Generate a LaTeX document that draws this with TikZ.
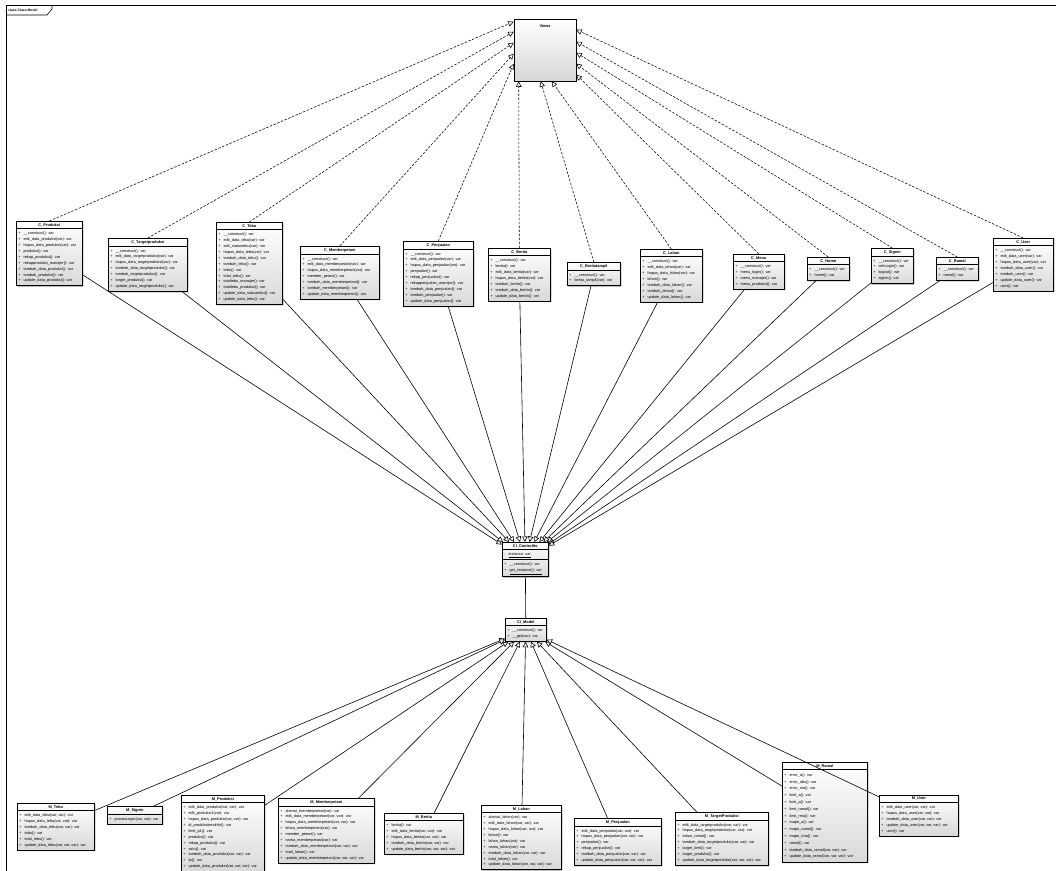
\documentclass[tikz,border=0pt]{standalone}
\usepackage{fontspec}
\setmainfont{Liberation Sans}
\usetikzlibrary{arrows.meta}
\usetikzlibrary{shapes.multipart}
\usetikzlibrary{shadows}
\newcommand{\ops}[1]{\begin{tabular}{@{}l@{\hspace{3pt}}l@{}}#1\end{tabular}}
\newcommand{\cname}[1]{{\fontsize{3.9}{4.7}\selectfont\bfseries #1}}
\tikzset{umlclass/.style = {rectangle split, rectangle split parts=2,
                            rectangle split part align={center,left},
                            draw, line width=0.6pt, anchor=north west,
                            top color=white, bottom color=black!15,
                            drop shadow={shadow xshift=1pt, shadow yshift=-1pt, opacity=0.8},
                            inner xsep=2pt, inner ysep=1.7pt,
                            font=\fontsize{3.85}{5.9}\selectfont},
         viewbox/.style = {draw, line width=0.6pt, minimum width=62pt, minimum height=62pt,
                           top color=white, bottom color=black!16,
                           drop shadow={shadow xshift=1pt, shadow yshift=-1pt, opacity=0.8}},
         realize/.style = {dash pattern=on 2.5pt off 1.5pt, line width=0.55pt,
                           -{Triangle[fill=white, length=5.5pt, width=5.5pt]}},
         inherit/.style = {line width=0.6pt,
                           -{Triangle[fill=white, length=5.5pt, width=5.5pt]}}}
\begin{document}
\begin{tikzpicture}[x=1pt, y=-1pt]
    \useasboundingbox (0,0) rectangle (1056,870);
    \fill[white] (0,0) rectangle (1056,870);
    % frame
    \draw[line width=0.8pt] (6,875) -- (6,5) -- (1056,5);
    \draw[line width=0.6pt] (6,15) -- (47,15) -- (52,9) -- (52,5);
    \node[anchor=west, inner sep=0pt, font=\fontsize{3.4}{4}\selectfont\bfseries] (frametitle) at (8,10) {class Class Model};

    % views
    \node[viewbox] (views) at (545,50) {};
    \node[anchor=north, inner sep=0pt] (viewsname) at ([yshift=-6pt]views.north) {\cname{Views}};

    % controllers
    \node[umlclass, minimum width=66pt] (cprod) at (16,221) {\cname{C\_Produksi}\nodepart{two}\ops{
      + & \_\_construct(): var\\ + & edit\_data\_produksi(var): var\\ + & hapus\_data\_produksi(var): var\\
      + & produksi(): var\\ + & rekap\_produksi(): var\\ + & rekapproduksi\_manajer(): var\\
      + & tambah\_data\_produksi(): var\\ + & tambah\_produksi(): var\\ + & update\_data\_produksi(): var}};
    \node[umlclass, minimum width=79pt] (ctarget) at (108,238) {\cname{C\_Targetproduksi}\nodepart{two}\ops{
      + & \_\_construct(): var\\ + & edit\_data\_targetproduksi(var): var\\ + & hapus\_data\_targetproduksi(var): var\\
      + & tambah\_data\_targetproduksi(): var\\ + & tambah\_targetproduksi(): var\\ + & target\_produksi(): var\\
      + & update\_data\_targetproduksi(): var}};
    \node[umlclass, minimum width=66pt] (ctebu) at (216,222) {\cname{C\_Tebu}\nodepart{two}\ops{
      + & \_\_construct(): var\\ + & edit\_data\_tebu(var): var\\ + & edit\_statustebu(var): var\\
      + & hapus\_data\_tebu(var): var\\ + & tambah\_data\_tebu(): var\\ + & tambah\_tebu(): var\\
      + & tebu(): var\\ + & total\_tebu(): var\\ + & totaltebu\_manajer(): var\\
      + & totaltebu\_produksi(): var\\ + & update\_data\_statustebu(): var\\ + & update\_data\_tebu(): var}};
    \node[umlclass, minimum width=79pt] (cmember) at (300,246) {\cname{C\_Memberpetani}\nodepart{two}\ops{
      + & \_\_construct(): var\\ + & edit\_data\_memberpetani(var): var\\ + & hapus\_data\_memberpetani(var): var\\
      + & member\_petani(): var\\ + & tambah\_data\_memberpetani(): var\\ + & tambah\_memberpetani(): var\\
      + & update\_data\_memberpetani(): var}};
    \node[umlclass, minimum width=70pt] (cjual) at (403,241) {\cname{C\_Penjualan}\nodepart{two}\ops{
      + & \_\_construct(): var\\ + & edit\_data\_penjualan(var): var\\ + & hapus\_data\_penjualan(var): var\\
      + & penjualan(): var\\ + & rekap\_penjualan(): var\\ + & rekappenjualan\_manajer(): var\\
      + & tambah\_data\_penjualan(): var\\ + & tambah\_penjualan(): var\\ + & update\_data\_penjualan(): var}};
    \node[umlclass, minimum width=62pt] (cberita) at (488,248) {\cname{C\_Berita}\nodepart{two}\ops{
      + & \_\_construct(): var\\ + & berita(): var\\ + & edit\_data\_berita(var): var\\
      + & hapus\_data\_berita(var): var\\ + & tambah\_berita(): var\\ + & tambah\_data\_berita(): var\\
      + & update\_data\_berita(): var}};
    \node[umlclass, minimum width=53pt] (cbtampil) at (567,262) {\cname{C\_Beritatampil}\nodepart{two}\ops{
      + & \_\_construct(): var\\ + & berita\_tampil(var): var}};
    \node[umlclass, minimum width=62pt] (clahan) at (640,249) {\cname{C\_Lahan}\nodepart{two}\ops{
      + & \_\_construct(): var\\ + & edit\_data\_lahan(var): var\\ + & hapus\_data\_lahan(var): var\\
      + & lahan(): var\\ + & tambah\_data\_lahan(): var\\ + & tambah\_lahan(): var\\
      + & update\_data\_lahan(): var}};
    \node[umlclass, minimum width=51pt] (cmenu) at (733,254) {\cname{C\_Menu}\nodepart{two}\ops{
      + & \_\_construct(): var\\ + & menu\_login(): var\\ + & menu\_manajer(): var\\ + & menu\_produksi(): var}};
    \node[umlclass, minimum width=42pt] (chome) at (807,257) {\cname{C\_Home}\nodepart{two}\ops{
      + & \_\_construct(): var\\ + & home(): var}};
    \node[umlclass, minimum width=42pt] (csignin) at (871,248) {\cname{C\_Signin}\nodepart{two}\ops{
      + & \_\_construct(): var\\ + & cekLogin(): var\\ + & logout(): var\\ + & signin(): var}};
    \node[umlclass, minimum width=42pt] (cramal) at (936,257) {\cname{C\_Ramal}\nodepart{two}\ops{
      + & \_\_construct(): var\\ + & ramal(): var}};
    \node[umlclass, minimum width=60pt] (cuser) at (993,238) {\cname{C\_User}\nodepart{two}\ops{
      + & \_\_construct(): var\\ + & edit\_data\_user(var): var\\ + & hapus\_data\_user(var): var\\
      + & tambah\_data\_user(): var\\ + & tambah\_user(): var\\ + & update\_data\_user(): var\\ + & user(): var}};

    % base classes
    \node[umlclass, rectangle split parts=3, minimum width=46pt] (ctl) at (502,542) {\cname{CI\_Controller}
      \nodepart{two}\ops{- & \underline{instance: var}}
      \nodepart{three}\ops{+ & \_\_construct(): var\\ + & \underline{get\_instance(): var}}};
    \node[umlclass, minimum width=41pt] (model) at (505,618) {\cname{CI\_Model}\nodepart{two}\ops{
      + & \_\_construct(): var\\ + & \_\_get(var): var}};

    % models
    \node[umlclass, minimum width=77pt] (mtebu) at (17,803) {\cname{M\_Tebu}\nodepart{two}\ops{
      + & edit\_data\_tebu(var, var): var\\ + & hapus\_data\_tebu(var, var): var\\ + & tambah\_data\_tebu(var, var): var\\
      + & tebu(): var\\ + & total\_tebu(): var\\ + & update\_data\_tebu(var, var, var): var}};
    \node[umlclass, minimum width=55pt] (msignin) at (107,806) {\cname{M\_Signin}\nodepart{two}\ops{
      + & prosesLogin(var, var): var}};
    \node[umlclass, minimum width=83pt] (mprod) at (181,795) {\cname{M\_Produksi}\nodepart{two}\ops{
      + & edit\_data\_produksi(var, var): var\\ + & edit\_produksi1(var): var\\ + & hapus\_data\_produksi(var, var): var\\
      + & id\_produksiterakhir(): var\\ + & limit\_p1(): var\\ + & produksi(): var\\ + & rekap\_produksi(): var\\
      + & satu(): var\\ + & tambah\_data\_produksi(var, var): var\\ + & tp(): var\\
      + & update\_data\_produksi(var, var, var): var}};
    \node[umlclass, minimum width=96pt] (mmember) at (278,798) {\cname{M\_Memberpetani}\nodepart{two}\ops{
      + & alamat\_memberpetani(var): var\\ + & edit\_data\_memberpetani(var, var): var\\
      + & hapus\_data\_memberpetani(var, var): var\\ + & lahan\_memberpetani(var): var\\
      + & member\_petani(): var\\ + & nama\_memberpetani(var): var\\
      + & tambah\_data\_memberpetani(var, var): var\\ + & total\_lahan(): var\\
      + & update\_data\_memberpetani(var, var, var): var}};
    \node[umlclass, minimum width=79pt] (mberita) at (384,813) {\cname{M\_Berita}\nodepart{two}\ops{
      + & berita(): var\\ + & edit\_data\_berita(var, var): var\\ + & hapus\_data\_berita(var, var): var\\
      + & tambah\_data\_berita(var, var): var\\ + & update\_data\_berita(var, var, var): var}};
    \node[umlclass, minimum width=80pt] (mlahan) at (481,805) {\cname{M\_Lahan}\nodepart{two}\ops{
      + & alamat\_lahan(var): var\\ + & edit\_data\_lahan(var, var): var\\ + & hapus\_data\_lahan(var, var): var\\
      + & lahan(): var\\ + & lahan\_lahan(var): var\\ + & nama\_lahan(var): var\\
      + & tambah\_data\_lahan(var, var): var\\ + & total\_lahan(): var\\ + & update\_data\_lahan(var, var, var): var}};
    \node[umlclass, minimum width=87pt] (mjual) at (574,818) {\cname{M\_Penjualan}\nodepart{two}\ops{
      + & edit\_data\_penjualan(var, var): var\\ + & hapus\_data\_penjualan(var, var): var\\ + & penjualan(): var\\
      + & rekap\_penjualan(): var\\ + & tambah\_data\_penjualan(var, var): var\\
      + & update\_data\_penjualan(var, var, var): var}};
    \node[umlclass, minimum width=93pt] (mtarget) at (675,812) {\cname{M\_TargetProduksi}\nodepart{two}\ops{
      + & edit\_data\_targetproduksi(var, var): var\\ + & hapus\_data\_targetproduksi(var, var): var\\
      + & tahun\_ramal(): var\\ + & tambah\_data\_targetproduksi(var, var): var\\ + & target\_limit(): var\\
      + & target\_produksi(): var\\ + & update\_data\_targetproduksi(var, var, var): var}};
    \node[umlclass, minimum width=85pt, font=\fontsize{3.85}{6.8}\selectfont] (mramal) at (782,762) {\cname{M\_Ramal}\nodepart{two}\ops{
      + & error\_a(): var\\ + & error\_abs(): var\\ + & error\_ma(): var\\ + & limit\_a(): var\\
      + & limit\_p(): var\\ + & limit\_ramal(): var\\ + & limit\_rma(): var\\ + & mape\_a(): var\\
      + & mape\_ramal(): var\\ + & mape\_rma(): var\\ + & ramal(): var\\
      + & tambah\_data\_ramal(var, var): var\\ + & update\_data\_ramal(var, var, var): var}};
    \node[umlclass, minimum width=79pt] (muser) at (879,795) {\cname{M\_User}\nodepart{two}\ops{
      + & edit\_data\_user(var, var): var\\ + & hapus\_data\_user(var, var): var\\
      + & tambah\_data\_user(var, var): var\\ + & update\_data\_user(var, var, var): var\\ + & user(): var}};

    % realizations of Views
    \draw[realize] (cprod.north) -- ([yshift=-3pt]views.north west);
    \draw[realize] (ctarget.north) -- ([yshift=-13pt]views.north west);
    \draw[realize] (ctebu.north) -- ([yshift=-24pt]views.north west);
    \draw[realize] (cmember.north) -- ([yshift=-35pt]views.north west);
    \draw[realize] (cjual.north) -- ([yshift=-45pt]views.north west);
    \draw[realize] (cberita.north) -- ([xshift=5pt]views.south west);
    \draw[realize] (cbtampil.north) -- ([xshift=27pt]views.south west);
    \draw[realize] (clahan.north) -- ([xshift=38pt]views.south west);
    \draw[realize] (cmenu.north) -- ([yshift=-56pt]views.north east);
    \draw[realize] (chome.north) -- ([yshift=-45pt]views.north east);
    \draw[realize] (csignin.north) -- ([yshift=-34pt]views.north east);
    \draw[realize] (cramal.north) -- ([yshift=-23pt]views.north east);
    \draw[realize] (cuser.north) -- ([yshift=-11pt]views.north east);

    % controllers extend CI_Controller
    \foreach \c in {cprod, ctarget, ctebu, cmember, cjual, cberita, cbtampil,
                    clahan, cmenu, chome, csignin, cramal, cuser}
      \draw[inherit] (\c) -- (ctl);
    \draw[line width=0.6pt] (ctl) -- (model);

    % models extend CI_Model
    \foreach \m in {mtebu, msignin, mprod, mmember, mberita, mlahan, mjual,
                    mtarget, mramal, muser}
      \draw[inherit] (\m) -- (model);
\end{tikzpicture}
\end{document}
